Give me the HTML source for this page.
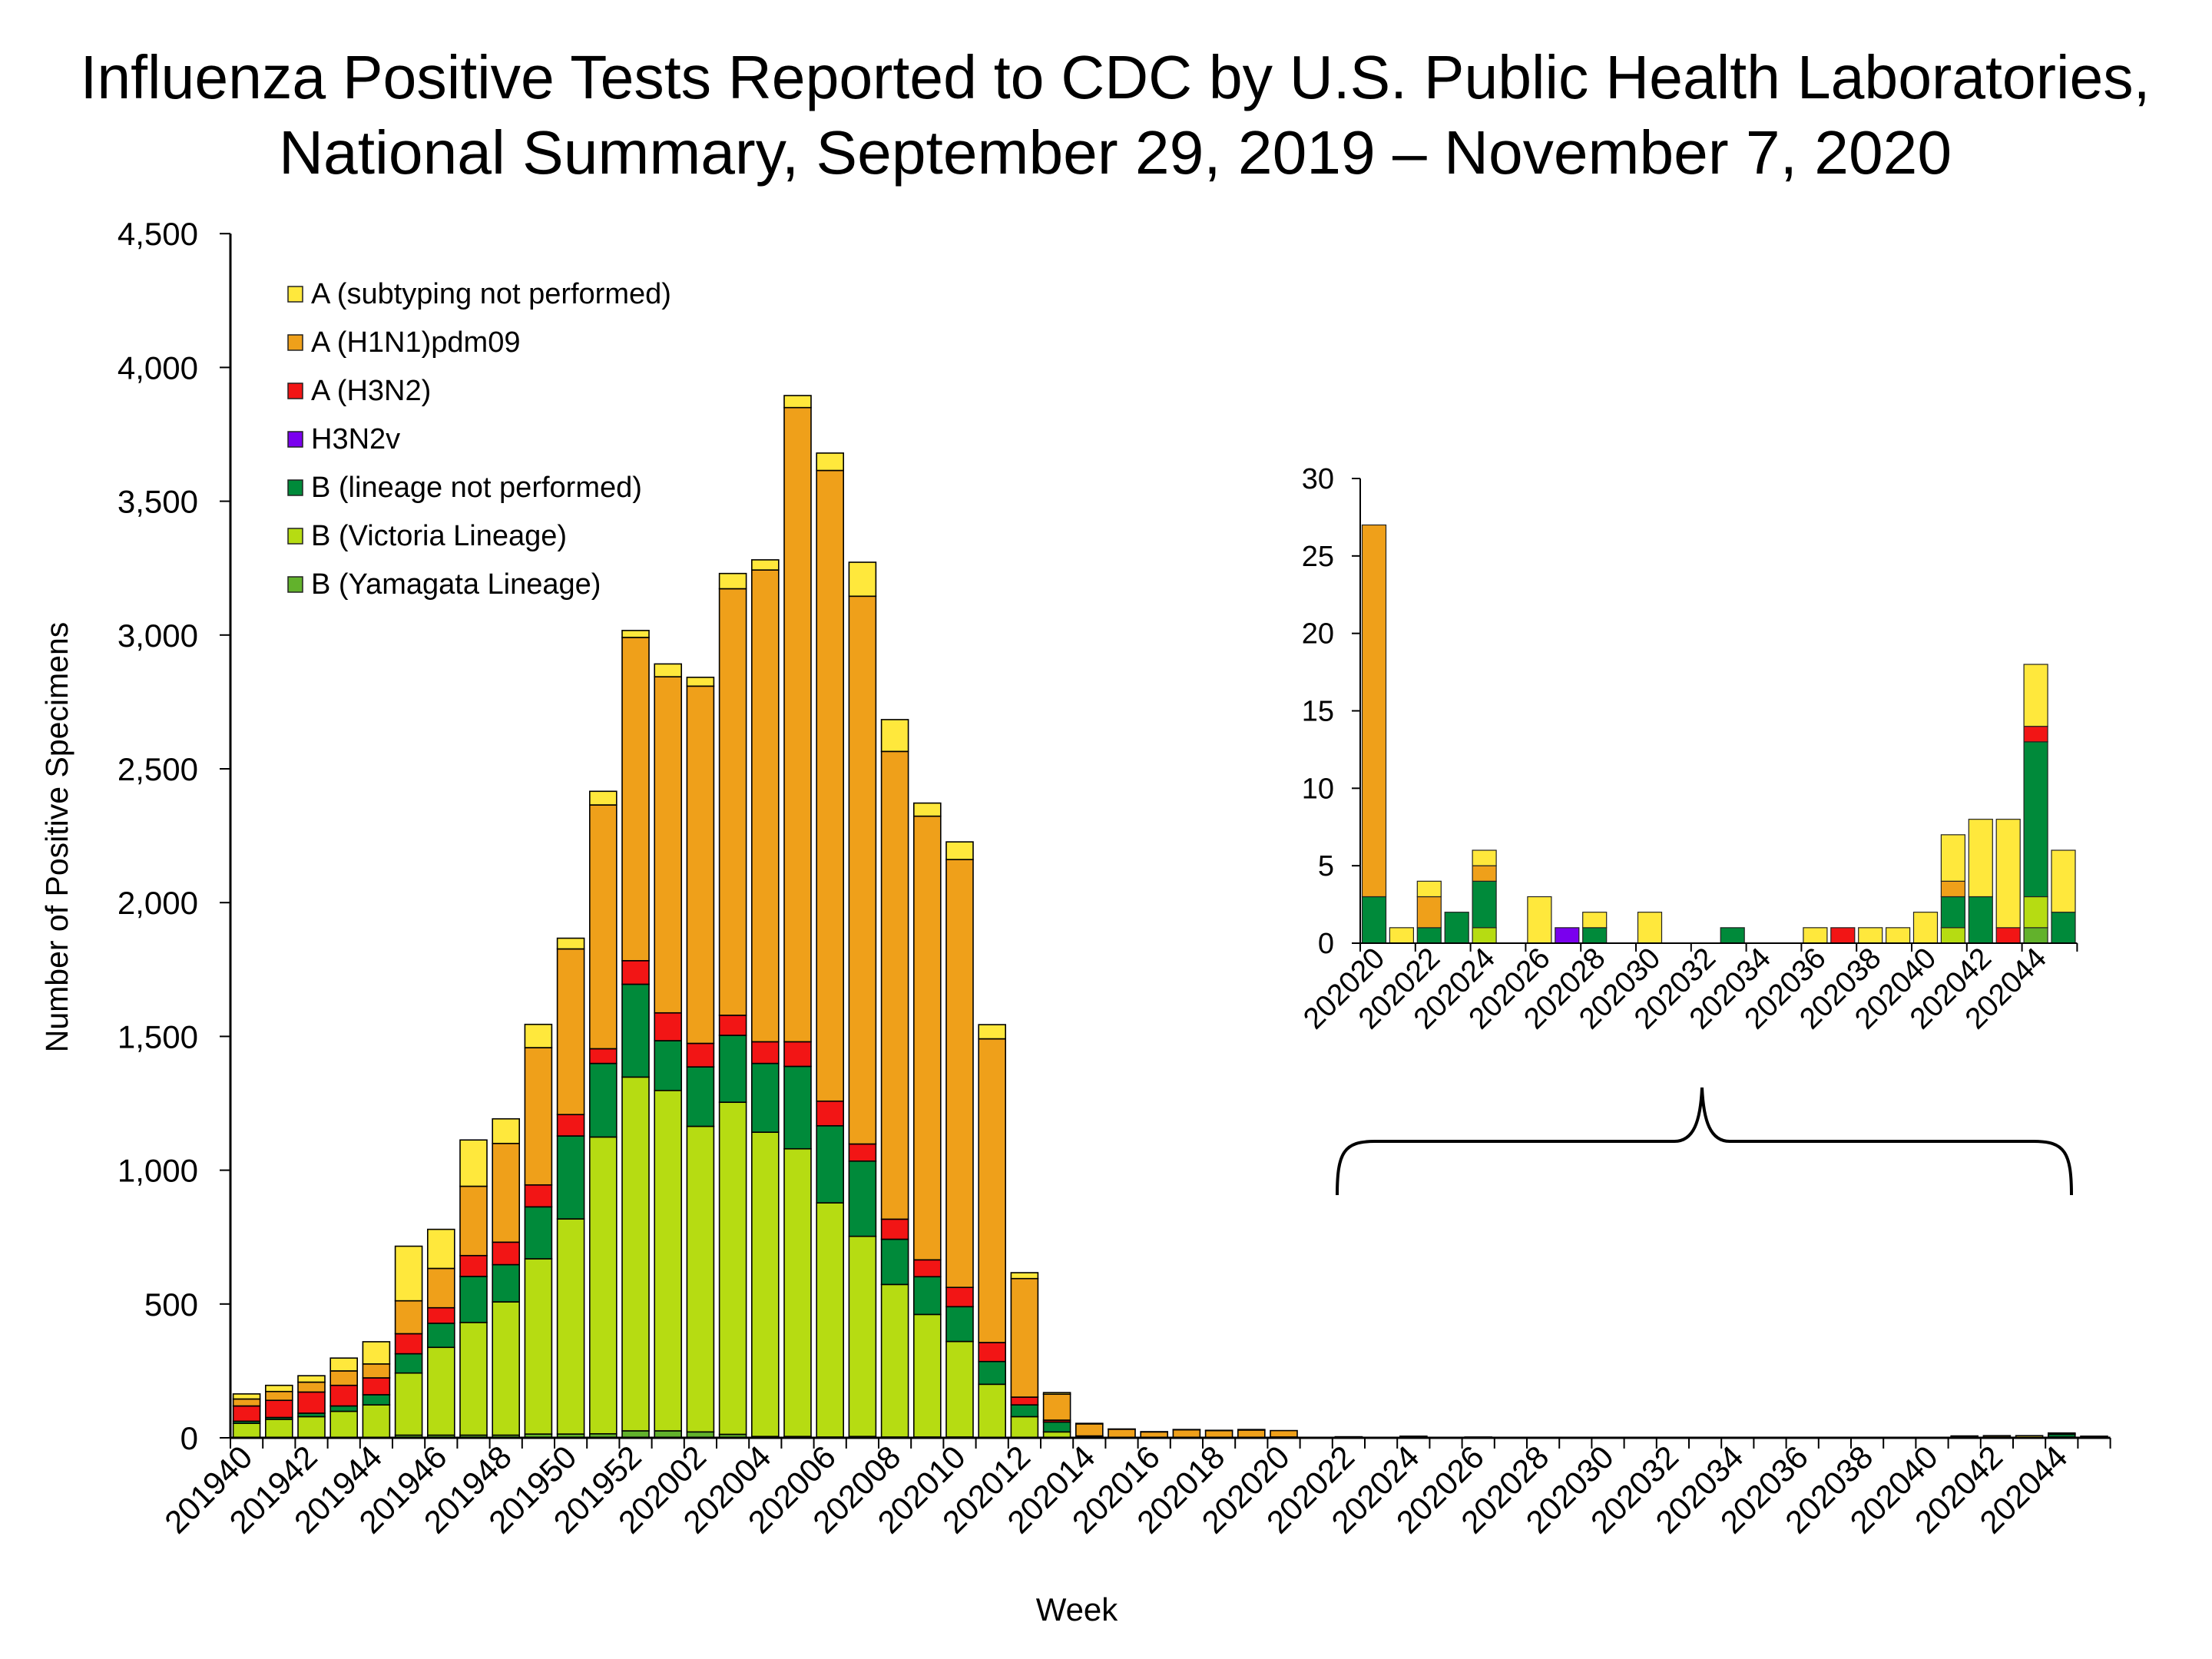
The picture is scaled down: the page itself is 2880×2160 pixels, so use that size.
<!DOCTYPE html>
<html><head><meta charset="utf-8"><style>
html,body{margin:0;padding:0;background:#fff;}
svg{display:block;font-family:"Liberation Sans",Arial,sans-serif;}
</style></head><body>
<svg id="chart" width="2880" height="2160" viewBox="0 0 2880 2160" xmlns="http://www.w3.org/2000/svg">
<text x="1452" y="128" font-size="80" text-anchor="middle" textLength="2695" lengthAdjust="spacingAndGlyphs">Influenza Positive Tests Reported to CDC by U.S. Public Health Laboratories,</text>
<text x="1452" y="226" font-size="80" text-anchor="middle" textLength="2178" lengthAdjust="spacingAndGlyphs">National Summary, September 29, 2019 – November 7, 2020</text>
<text transform="translate(88,1090) rotate(-90)" font-size="41" text-anchor="middle">Number of Positive Specimens</text>
<text x="1402" y="2110" font-size="42" text-anchor="middle">Week</text>
<g id="main"></g>
<g id="inset"></g>
<g id="legend"></g>
<path d="M1741,1556 C1741,1500 1750,1486 1790,1486 L2180,1486 C2205,1486 2214,1460 2216,1416 C2218,1460 2227,1486 2252,1486 L2648,1486 C2688,1486 2697,1500 2697,1556" fill="none" stroke="#000" stroke-width="4"/>
</svg>
<script>
// Main chart data (201940 .. 202045)
const weeks = ["201940","201941","201942","201943","201944","201945","201946","201947","201948","201949","201950","201951","201952","202001","202002","202003","202004","202005","202006","202007","202008","202009","202010","202011","202012","202013","202014","202015","202016","202017","202018","202019","202020","202021","202022","202023","202024","202025","202026","202027","202028","202029","202030","202031","202032","202033","202034","202035","202036","202037","202038","202039","202040","202041","202042","202043","202044","202045"];
const bYam = [0,0,0,2,2,10,10,10,10,14,14,15,26,26,22,13,5,5,3,5,3,3,3,2,2,0,0,0,0,0,0,0, 0,0,0,0,0,0,0,0,0,0,0,0,0,0,0,0,0,0,0,0,0,0,0,0,1,0];
const bVic = [54,69,79,97,121,232,328,421,498,655,804,1109,1322,1272,1142,1241,1137,1075,875,748,570,458,357,198,77,22,2,0,0,0,0,0, 0,0,0,0,1,0,0,0,0,0,0,0,0,0,0,0,0,0,0,0,0,1,0,0,2,0];
const bNL = [8,7,13,20,38,72,90,172,139,194,310,275,347,186,222,250,257,308,288,281,169,141,130,85,44,37,4,1,0,0,0,0, 3,0,1,2,3,0,0,0,1,0,0,0,0,1,0,0,0,0,0,0,0,2,3,0,10,2];
const h3v = [0,0,0,0,0,0,0,0,0,0,0,0,0,0,0,0,0,0,0,0,0,0,0,0,0,0,0,0,0,0,0,0, 0,0,0,0,0,0,0,1,0,0,0,0,0,0,0,0,0,0,0,0,0,0,0,0,0,0];
const h3 = [57,64,79,77,63,75,58,78,84,82,80,55,88,104,88,75,81,92,92,64,75,63,72,71,29,7,1,0,0,0,0,0, 0,0,0,0,0,0,0,0,0,0,0,0,0,0,0,0,0,1,0,0,0,0,0,1,1,0];
const h1 = [26,33,37,54,52,123,147,259,369,513,619,911,1208,1256,1335,1594,1763,2370,2357,2047,1748,1658,1599,1135,443,97,45,31,22,30,27,29, 24,0,2,0,1,0,0,0,0,0,0,0,0,0,0,0,0,0,0,0,0,1,0,0,0,0];
const aUns = [19,23,24,48,83,204,146,173,92,87,40,51,26,48,33,57,38,45,65,127,119,49,66,53,22,6,2,1,1,1,1,2, 0,1,1,0,1,0,3,0,1,0,2,0,0,0,0,0,1,0,1,1,2,3,5,7,4,4];
const yTicks = [0,500,1000,1500,2000,2500,3000,3500,4000,4500];
const yTickLabels = ["0","500","1,000","1,500","2,000","2,500","3,000","3,500","4,000","4,500"];
// Inset data (202020 .. 202045) is the tail of the arrays above
const insetStart = 32;
const insetTicks = [0,5,10,15,20,25,30];
const insetTickLabels = ["0","5","10","15","20","25","30"];

const seriesData = [bYam,bVic,bNL,h3v,h3,h1,aUns];
const seriesNames = ["b-yamagata","b-victoria","b-lineage-not-performed","h3n2v","a-h3n2","a-h1n1pdm09","a-subtyping-not-performed"];
const colors = ["#62b22c","#b6dc12","#008a3a","#7a00ee","#f21515","#efa01a","#ffe83c"];
const legendLabels = ["A (subtyping not performed)","A (H1N1)pdm09","A (H3N2)","H3N2v","B (lineage not performed)","B (Victoria Lineage)","B (Yamagata Lineage)"];

const NS = "http://www.w3.org/2000/svg";
function mk(tag, attrs, parent){const e=document.createElementNS(NS,tag);for(const k in attrs)e.setAttribute(k,attrs[k]);parent.appendChild(e);return e;}

// main axes
const M = {x0:300, slot:42.2, bw:35, y0:1872, ky:174.2/500};
function mx(i){return M.x0 + i*M.slot;}
function my(v){return M.y0 - v*M.ky;}
const g = document.getElementById('main');
for(let i=0;i<weeks.length;i++){
  let acc=0;
  for(let s=0;s<seriesData.length;s++){
    const v=seriesData[s][i]; if(!v) continue;
    const r=mk('rect',{x:mx(i)+3.6,y:my(acc+v),width:M.bw,height:v*M.ky,fill:colors[s],stroke:'#000','stroke-width':1.6},g);
    
    
    acc+=v;
  }
}
let ax=mk('line',{x1:M.x0,y1:my(4500),x2:M.x0,y2:M.y0,stroke:'#000','stroke-width':3},g);
 
ax=mk('line',{x1:M.x0,y1:M.y0,x2:mx(weeks.length),y2:M.y0,stroke:'#000','stroke-width':3},g);
 
for(let k=0;k<yTicks.length;k++){
  const y=my(yTicks[k]);
  mk('line',{x1:M.x0-14,y1:y,x2:M.x0,y2:y,stroke:'#000','stroke-width':2},g);
  const t=mk('text',{x:258,y:y+15,'font-size':42,'text-anchor':'end'},g);
  t.textContent=yTickLabels[k];
   
}
for(let i=0;i<=weeks.length;i++){
  mk('line',{x1:mx(i),y1:M.y0,x2:mx(i),y2:M.y0+14,stroke:'#000','stroke-width':2},g);
}
for(let i=0;i<weeks.length;i+=2){
  const cx=mx(i)+M.slot/2+10, cy=1900;
  const t=mk('text',{x:cx,y:cy,'font-size':42,'text-anchor':'end',transform:`rotate(-45 ${cx} ${cy})`},g);
  t.textContent=weeks[i];
   
}

// inset axes
const I = {x0:1771, slot:35.9, bw:31, y0:1228, ky:(1228-623)/30};
function ix(i){return I.x0 + i*I.slot;}
function iy(v){return I.y0 - v*I.ky;}
const gi=document.getElementById('inset');
const nIn = weeks.length-insetStart;
for(let j=0;j<nIn;j++){
  const i=insetStart+j; let acc=0;
  for(let s=0;s<seriesData.length;s++){
    const v=seriesData[s][i]; if(!v) continue;
    const r=mk('rect',{x:ix(j)+2.5,y:iy(acc+v),width:I.bw,height:v*I.ky,fill:colors[s],stroke:'#222','stroke-width':1.2},gi);
    
    
    acc+=v;
  }
}
ax=mk('line',{x1:I.x0,y1:iy(30),x2:I.x0,y2:I.y0,stroke:'#000','stroke-width':2},gi);
 
ax=mk('line',{x1:I.x0,y1:I.y0,x2:ix(nIn),y2:I.y0,stroke:'#000','stroke-width':2},gi);
 
for(let k=0;k<insetTicks.length;k++){
  const y=iy(insetTicks[k]);
  mk('line',{x1:I.x0-11,y1:y,x2:I.x0,y2:y,stroke:'#000','stroke-width':2},gi);
  const t=mk('text',{x:1737,y:y+13,'font-size':38,'text-anchor':'end'},gi);
  t.textContent=insetTickLabels[k];
   
}
for(let j=0;j<=nIn;j+=2){
  mk('line',{x1:ix(j),y1:I.y0,x2:ix(j),y2:I.y0+11,stroke:'#000','stroke-width':2},gi);
}
for(let j=0;j<nIn;j+=2){
  const cx=ix(j)+34, cy=1250;
  const t=mk('text',{x:cx,y:cy,'font-size':39,'text-anchor':'end',transform:`rotate(-45 ${cx} ${cy})`},gi);
  t.textContent=weeks[insetStart+j];
   
}

// legend (top to bottom reverse of stack order)
const gl=document.getElementById('legend');
for(let k=0;k<legendLabels.length;k++){
  const s=seriesData.length-1-k, y=373+k*63;
  const r=mk('rect',{x:375,y:y,width:19,height:20,fill:colors[s],stroke:'#222','stroke-width':1.5},gl);
   
  const t=mk('text',{x:405,y:y+22,'font-size':38},gl);
  t.textContent=legendLabels[k];
   
}
</script>
</body></html>
